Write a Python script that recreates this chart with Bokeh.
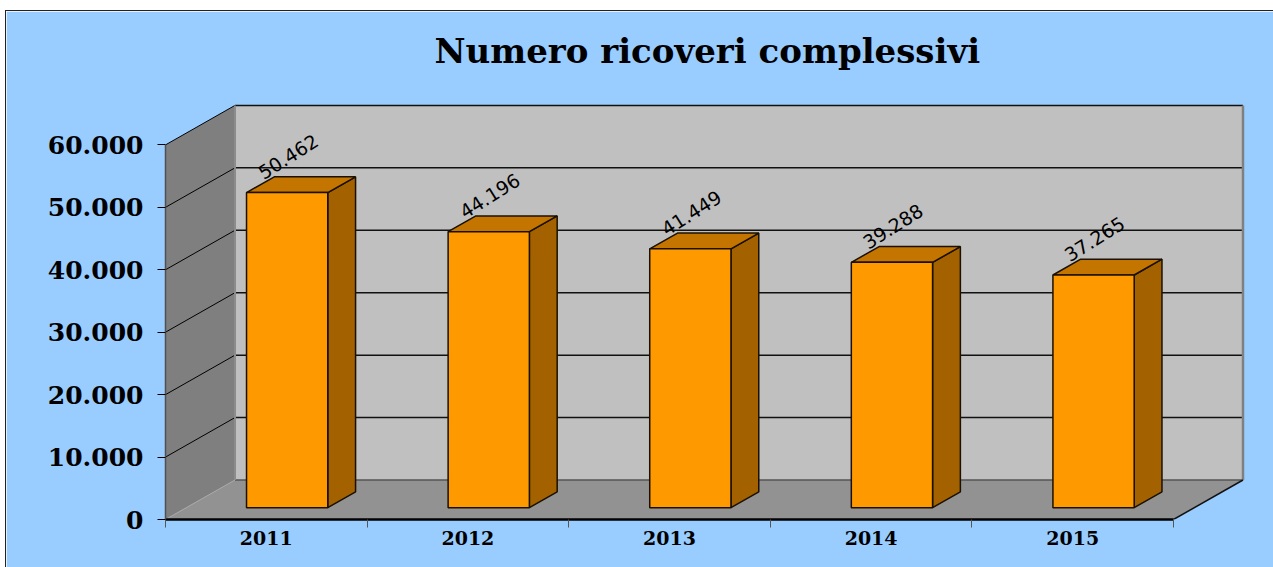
from bokeh.plotting import figure
from bokeh.models import FixedTicker, Range1d
from bokeh.core.properties import value
from bokeh.embed import file_html
from bokeh.resources import INLINE

# ---- data ----
title_text = "Numero ricoveri complessivi"
years = ["2011", "2012", "2013", "2014", "2015"]
ricoveri = [50462, 44196, 41449, 39288, 37265]
bar_labels = ["50.462", "44.196", "41.449", "39.288", "37.265"]
y_ticks = [0, 10000, 20000, 30000, 40000, 50000, 60000]
y_tick_labels = ["0", "10.000", "20.000", "30.000", "40.000", "50.000", "60.000"]

# ---- oblique projection of the 3D box, in data units ----
PX_X = 1008 / 5          # px per category
PX_Y = 374.6 / 60000     # px per unit
DX = 69.5 / PX_X         # full depth, x
DY = 39.5 / PX_Y         # full depth, y
BAR_W = 0.403
D_FRONT, D_BACK = 0.30, 0.70
N = len(years)
TOP = y_ticks[-1]

W, H = 1268, 557
p = figure(width=W, height=H, output_backend="svg", toolbar_location=None,
           x_range=Range1d(0, (1250 - 166) / PX_X),
           y_range=Range1d(0, (519 - 25) / PX_Y),
           min_border_left=159, min_border_right=25, min_border_top=14, min_border_bottom=49,
           background_fill_color="#99CCFF", border_fill_color="#99CCFF",
           outline_line_color="#99CCFF", outline_line_width=2)
p.margin = (10, 0, 0, 5)
p.styles = {"border-top": "1px solid #222", "border-left": "1px solid #222", "box-sizing": "border-box"}
p.grid.visible = False

# title, centred over the box
p.text(x=[(N + DX) / 2], y=[(519 - 50) / PX_Y], text=[title_text],
       text_font=value("DejaVu Serif"), text_font_style="bold", text_font_size="34px",
       text_color="#000000", text_align="center", text_baseline="middle", x_offset=3)

# axes
ya = p.yaxis[0]
ya.ticker = FixedTicker(ticks=y_ticks)
ya.major_label_overrides = dict(zip(y_ticks, y_tick_labels))
ya.bounds = (0, TOP)
ya.axis_line_color = "#505050"
ya.axis_line_width = 1.5
ya.major_tick_in = 0
ya.major_tick_out = 8
ya.major_tick_line_color = "#000000"
ya.minor_tick_line_color = None
ya.major_label_standoff = 14
ya.major_label_text_font = "DejaVu Serif"
ya.major_label_text_font_style = "bold"
ya.major_label_text_font_size = "25px"
ya.major_label_text_color = "#000000"

centers = [i + 0.5 for i in range(N)]
xa = p.xaxis[0]
xa.ticker = FixedTicker(ticks=centers, minor_ticks=list(range(N + 1)))
xa.major_label_overrides = dict(zip(centers, years))
xa.bounds = (0, N)
xa.axis_line_color = "#000000"
xa.axis_line_width = 2.5
xa.major_tick_line_color = None
xa.minor_tick_in = 0
xa.minor_tick_out = 8
xa.minor_tick_line_color = "#555555"
xa.major_label_standoff = 3
xa.major_label_text_font = "DejaVu Serif"
xa.major_label_text_font_style = "bold"
xa.major_label_text_font_size = "19px"
xa.major_label_text_color = "#000000"

# walls and floor
p.patch([0, DX, DX, 0], [0, DY, TOP + DY, TOP], fill_color="#7F7F7F", line_color=None)
p.patch([DX, N + DX, N + DX, DX], [DY, DY, TOP + DY, TOP + DY], fill_color="#C0C0C0", line_color=None)
p.patch([0, N, N + DX, DX], [0, 0, DY, DY], fill_color="#929292", line_color=None)

# gridlines
levels = y_ticks[1:]
p.segment([0] * len(levels), levels, [DX] * len(levels), [v + DY for v in levels],
          line_color="#000000", line_width=1)
p.segment([DX] * len(levels), [v + DY for v in levels], [N + DX] * len(levels), [v + DY for v in levels],
          line_color="#111111", line_width=1.5)

# box edges
p.segment([DX], [DY], [N + DX], [DY], line_color="#555555", line_width=1.5)
p.segment([DX], [0 + DY], [DX], [TOP + DY], line_color="#8C8C8C", line_width=2)
p.segment([N + DX], [DY], [N + DX], [TOP + DY], line_color="#808080", line_width=2.5)
p.segment([N], [0], [N + DX], [DY], line_color="#111111", line_width=1.5)
p.segment([0], [0], [DX], [DY], line_color="#A8A8A8", line_width=1)

# bars
base_f = DY * D_FRONT
base_b = DY * D_BACK
for c, v in zip(centers, ricoveri):
    l = c - BAR_W / 2 + DX * D_FRONT
    r = c + BAR_W / 2 + DX * D_FRONT
    ddx = DX * (D_BACK - D_FRONT)
    t_f = base_f + v
    t_b = base_b + v
    p.patch([r, r + ddx, r + ddx, r], [base_f, base_b, t_b, t_f],
            fill_color="#A36100", line_color="#1A1000", line_width=1.5)
    p.patch([l, r, r + ddx, l + ddx], [t_f, t_f, t_b, t_b],
            fill_color="#C47500", line_color="#1A1000", line_width=1.5)
    p.quad(left=[l], right=[r], bottom=[base_f], top=[t_f],
           fill_color="#FF9900", line_color="#1A1000", line_width=1.5)

# value labels
p.text(x=[c + DX * D_FRONT for c in centers], y=[v + base_f for v in ricoveri], text=bar_labels,
       text_font=value("DejaVu Sans"), text_font_size="19px", text_color="#000000",
       text_align="center", text_baseline="middle", angle=0.56, x_offset=1, y_offset=-36)

open("out.html", "w").write(file_html(p, INLINE))
